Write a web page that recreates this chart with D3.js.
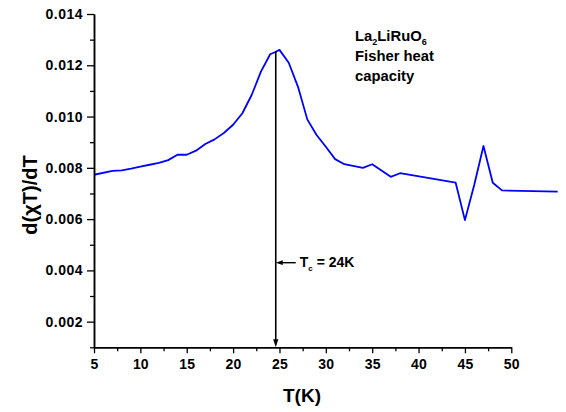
<!DOCTYPE html>
<html>
<head>
<meta charset="utf-8">
<script src="https://cdn.jsdelivr.net/npm/d3@7/dist/d3.min.js"></script>
<style>
  html, body { margin: 0; padding: 0; background: #fff; }
  svg { display: block; }
  text { font-family: "Liberation Sans", Arial, sans-serif; font-weight: bold; fill: #000; }
</style>
</head>
<body>
<svg id="chart" width="566" height="412"></svg>
<script>
// Temperature (K) and derivative d(chi T)/dT
const temperature = [5, 7, 8, 9, 10, 11, 12, 13, 14, 15, 16, 17, 18, 19, 20, 21, 22, 23, 24, 24.5,
  25, 26, 27, 28, 29, 30, 31, 32, 34, 35, 37, 38, 44, 45, 46, 47, 48, 49, 55];
const dChiTdT = [0.00773, 0.00788, 0.0079, 0.00797, 0.00805, 0.00812, 0.00819, 0.0083, 0.00851, 0.00851,
  0.00867, 0.00893, 0.00911, 0.00936, 0.00968, 0.01013, 0.01084, 0.01175, 0.01243, 0.01251,
  0.0126, 0.0121, 0.01116, 0.00989, 0.00928, 0.00882, 0.00834, 0.00814, 0.008, 0.00814,
  0.00765, 0.00779, 0.00742, 0.00596, 0.00733, 0.00885, 0.00742, 0.00712, 0.00707];

const xMajorTicks = [5, 10, 15, 20, 25, 30, 35, 40, 45, 50];
const xMinorTicks = [7.5, 12.5, 17.5, 22.5, 27.5, 32.5, 37.5, 42.5, 47.5];
const yMajorTicks = [0.002, 0.004, 0.006, 0.008, 0.010, 0.012, 0.014];
const yMinorTicks = [0.001, 0.003, 0.005, 0.007, 0.009, 0.011, 0.013];

// Transition marker
const tcArrowT = 24.6;
const tcLabel = "24K";

(function () {
  const svg = d3.select("#chart");
  const plotLeft = 94, plotRight = 511.3, plotTop = 14, plotBottom = 347.3;

  const x = d3.scaleLinear().domain([5, 50]).range([plotLeft, plotRight]);
  const y = d3.scaleLinear().domain([0.001, 0.014]).range([plotBottom, plotTop]);

  // Data curve (extends past the last axis tick)
  const line = d3.line().x((d, i) => x(temperature[i])).y(d => y(d));
  svg.append("path")
    .datum(dChiTdT)
    .attr("d", line)
    .attr("fill", "none")
    .attr("stroke", "#0000ff")
    .attr("stroke-width", 1.8)
    .attr("stroke-linejoin", "round");

  // Axes
  function styleAxis(g) {
    g.selectAll(".domain").attr("stroke", "#000").attr("stroke-width", 1.5);
    g.selectAll(".tick line").attr("stroke", "#000").attr("stroke-width", 1.3);
  }

  const xAxisMinor = svg.append("g").attr("transform", `translate(0,${plotBottom})`)
    .call(d3.axisBottom(x).tickValues(xMinorTicks).tickSize(4).tickSizeOuter(0).tickFormat(""));
  styleAxis(xAxisMinor);
  const xAxis = svg.append("g").attr("transform", `translate(0,${plotBottom})`)
    .call(d3.axisBottom(x).tickValues(xMajorTicks).tickSize(6).tickSizeOuter(0).tickPadding(6).tickFormat(d3.format("d")));
  styleAxis(xAxis);
  xAxis.selectAll("text").attr("font-size", 14).attr("letter-spacing", 0.2)
    .attr("font-family", "Liberation Sans, Arial, sans-serif").attr("font-weight", "bold");

  const yAxisMinor = svg.append("g").attr("transform", `translate(${plotLeft},0)`)
    .call(d3.axisLeft(y).tickValues(yMinorTicks).tickSize(4).tickSizeOuter(0).tickFormat(""));
  styleAxis(yAxisMinor);
  const yAxis = svg.append("g").attr("transform", `translate(${plotLeft},0)`)
    .call(d3.axisLeft(y).tickValues(yMajorTicks).tickSize(7).tickSizeOuter(0).tickPadding(4).tickFormat(d3.format(".3f")));
  styleAxis(yAxis);
  yAxis.selectAll("text").attr("font-size", 14).attr("letter-spacing", 0.5)
    .attr("font-family", "Liberation Sans, Arial, sans-serif").attr("font-weight", "bold");

  // Axis titles
  svg.append("text")
    .attr("x", 302).attr("y", 402)
    .attr("text-anchor", "middle")
    .attr("font-size", 19)
    .text("T(K)");

  svg.append("text")
    .attr("transform", "translate(37,195) rotate(-90)")
    .attr("text-anchor", "middle")
    .attr("font-size", 20)
    .text("d(χT)/dT");

  // Compound and description
  const note = svg.append("g").attr("font-size", 14.8);
  const formula = note.append("text").attr("x", 355).attr("y", 41);
  formula.append("tspan").text("La");
  formula.append("tspan").attr("font-size", 9).attr("dy", 4).text("2");
  formula.append("tspan").attr("dy", -4).text("LiRuO");
  formula.append("tspan").attr("font-size", 9).attr("dy", 4).text("6");
  note.append("text").attr("x", 355).attr("y", 61).text("Fisher heat");
  note.append("text").attr("x", 355).attr("y", 81).text("capacity");

  // Tc arrows
  const ax = x(tcArrowT);
  svg.append("line")
    .attr("x1", ax).attr("x2", ax)
    .attr("y1", y(0.01256)).attr("y2", plotBottom - 6)
    .attr("stroke", "#000").attr("stroke-width", 1.6);
  svg.append("path")
    .attr("d", `M${ax - 2.6},${plotBottom - 8} L${ax + 2.6},${plotBottom - 8} L${ax},${plotBottom} Z`)
    .attr("fill", "#000");

  const ay = 262.7;
  svg.append("line")
    .attr("x1", ax + 6).attr("x2", ax + 20)
    .attr("y1", ay).attr("y2", ay)
    .attr("stroke", "#000").attr("stroke-width", 1.4);
  svg.append("path")
    .attr("d", `M${ax + 7},${ay - 2.4} L${ax + 7},${ay + 2.4} L${ax},${ay} Z`)
    .attr("fill", "#000");

  const tc = svg.append("text").attr("x", ax + 24).attr("y", 267).attr("font-size", 14);
  tc.append("tspan").text("T");
  tc.append("tspan").attr("font-size", 8).attr("dy", 4).text("c");
  tc.append("tspan").attr("dy", -4).text(" = " + tcLabel);
})();
</script>
</body>
</html>
